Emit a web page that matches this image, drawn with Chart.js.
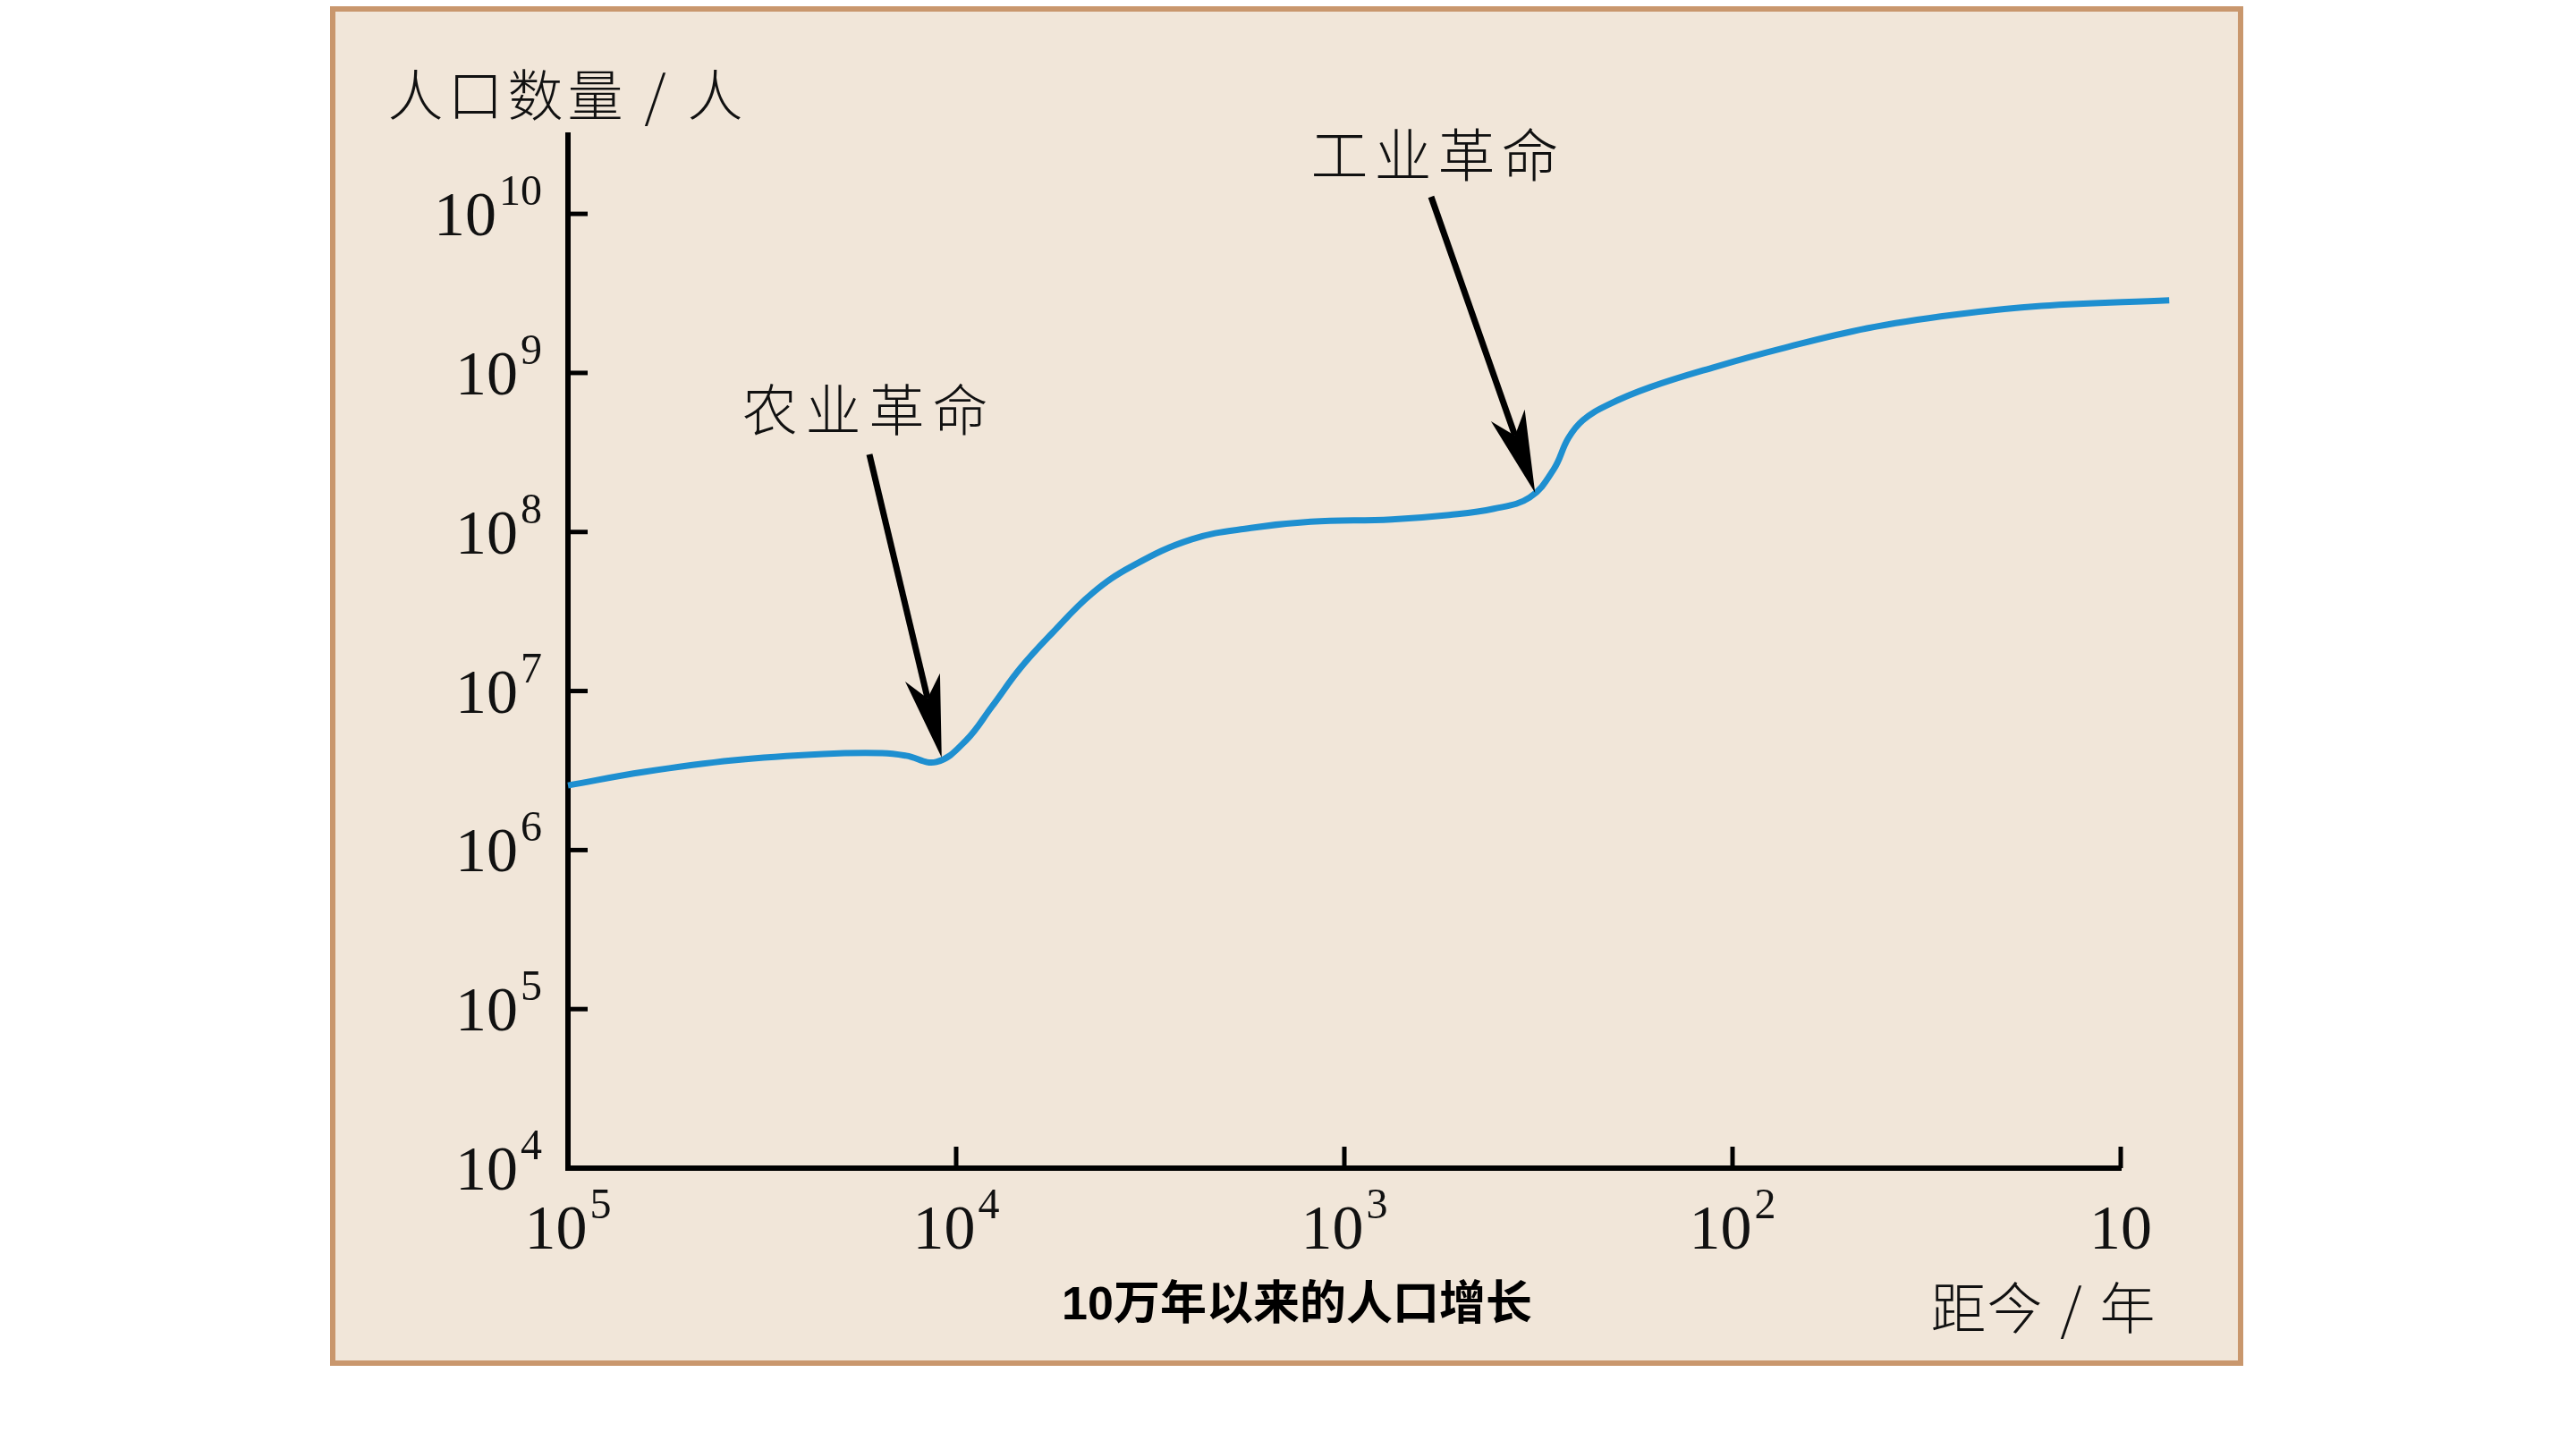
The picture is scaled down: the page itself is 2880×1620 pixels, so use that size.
<!DOCTYPE html>
<html lang="zh-CN">
<head>
<meta charset="utf-8">
<title>10万年以来的人口增长</title>
<script src="https://cdn.jsdelivr.net/npm/chart.js@4.4.1/dist/chart.umd.min.js"></script>
<style>
    html, body { margin: 0; padding: 0; background: #ffffff; }
    #grafico { display: block; }
</style>
</head>
<body>
<canvas id="grafico" width="2880" height="1620"></canvas>
<script>
// Años antes del presente (eje x, logarítmico e invertido)
const years = [100000, 63700, 37500, 22000, 15500, 13450, 11250, 9440, 8090, 6820,
    5670, 4470, 3520, 2470, 1740, 1220, 755, 537, 412, 333,
    289, 265, 243, 210, 163, 111, 75, 45, 27, 16, 7.5];
// Población estimada (personas)
const population = [2.55e6, 3.10e6, 3.67e6, 4.02e6, 4.07e6, 3.92e6, 3.58e6, 4.88e6, 7.98e6, 1.40e7,
    2.30e7, 4.10e7, 6.10e7, 9.0e7, 1.06e8, 1.16e8, 1.20e8, 1.28e8, 1.40e8, 1.65e8,
    2.47e8, 3.88e8, 5.04e8, 6.28e8, 8.13e8, 1.09e9, 1.42e9, 1.91e9, 2.32e9, 2.64e9, 2.86e9];

// Marcas de los ejes
const xTicks = [100000, 10000, 1000, 100, 10];
const xTickExp = ['5', '4', '3', '2', ''];
const yTicks = [1e4, 1e5, 1e6, 1e7, 1e8, 1e9, 1e10];
const yTickExp = ['4', '5', '6', '7', '8', '9', '10'];

// Textos
const yTitle = '人口数量/人';
const xTitle = '距今/年';
const caption = '10万年以来的人口增长';
const notes = [
    { text: '农业革命', year: 11250, pop: 3.58e6 },
    { text: '工业革命', year: 333, pop: 1.65e8 }
];

const SERIF = "'Liberation Serif', 'DejaVu Serif', serif";
const CJK = "'Noto Sans CJK SC', 'Noto Sans', sans-serif";

// Texto carácter por carácter con paso fijo
function spaced(ctx, txt, x0, cy, pitch, font) {
    ctx.font = font;
    ctx.textAlign = 'center';
    ctx.textBaseline = 'middle';
    [...txt].forEach((c, i) => ctx.fillText(c, x0 + pitch / 2 + i * pitch, cy));
}

function arrow(ctx, x0, y0, x1, y1) {
    const dx = x1 - x0, dy = y1 - y0;
    const len = Math.hypot(dx, dy);
    const ux = dx / len, uy = dy / len;
    const px = -uy, py = ux;
    const headLen = 92, half = 20, notch = 68;
    ctx.strokeStyle = '#000';
    ctx.lineWidth = 7;
    ctx.lineCap = 'butt';
    ctx.beginPath();
    ctx.moveTo(x0, y0);
    ctx.lineTo(x1 - ux * notch, y1 - uy * notch);
    ctx.stroke();
    ctx.fillStyle = '#000';
    ctx.beginPath();
    ctx.moveTo(x1, y1);
    ctx.lineTo(x1 - ux * headLen + px * half, y1 - uy * headLen + py * half);
    ctx.lineTo(x1 - ux * notch, y1 - uy * notch);
    ctx.lineTo(x1 - ux * headLen - px * half, y1 - uy * headLen - py * half);
    ctx.closePath();
    ctx.fill();
}

const decoracion = {
    id: 'decoracion',
    beforeDraw(chart) {
        const ctx = chart.ctx;
        ctx.save();
        ctx.fillStyle = '#ffffff';
        ctx.fillRect(0, 0, chart.width, chart.height);
        ctx.fillStyle = '#F1E6D9';
        ctx.fillRect(372, 10, 2133, 1514);
        ctx.strokeStyle = '#C9976D';
        ctx.lineWidth = 6;
        ctx.strokeRect(372, 10, 2133, 1514);
        ctx.restore();
    },
    afterDraw(chart) {
        const ctx = chart.ctx;
        const xs = chart.scales.x, ys = chart.scales.y;
        const left = chart.chartArea.left, bottom = chart.chartArea.bottom;
        ctx.save();
        ctx.fillStyle = '#111';
        ctx.strokeStyle = '#000';

        // marcas hacia dentro
        ctx.lineWidth = 5;
        yTicks.forEach(v => {
            const y = ys.getPixelForValue(v);
            if (v === yTicks[0]) return;
            ctx.beginPath(); ctx.moveTo(left, y); ctx.lineTo(left + 22, y); ctx.stroke();
        });
        xTicks.forEach(v => {
            const x = xs.getPixelForValue(v);
            if (v === xTicks[0]) return;
            ctx.beginPath(); ctx.moveTo(x, bottom); ctx.lineTo(x, bottom - 24); ctx.stroke();
        });

        // etiquetas del eje y: 10 con exponente
        ctx.textBaseline = 'alphabetic';
        yTicks.forEach((v, i) => {
            const y = ys.getPixelForValue(v);
            ctx.font = '48px ' + SERIF;
            ctx.textAlign = 'right';
            const ew = ctx.measureText(yTickExp[i]).width;
            ctx.fillText(yTickExp[i], 606, y - 10);
            ctx.font = '70px ' + SERIF;
            ctx.fillText('10', 606 - ew - 3, y + 24);
        });

        // etiquetas del eje x
        xTicks.forEach((v, i) => {
            const x = xs.getPixelForValue(v);
            ctx.font = '70px ' + SERIF;
            const bw = ctx.measureText('10').width;
            ctx.font = '48px ' + SERIF;
            const ew = xTickExp[i] ? ctx.measureText(xTickExp[i]).width + 3 : 0;
            const x0 = x - (bw + ew) / 2;
            ctx.textAlign = 'left';
            ctx.font = '70px ' + SERIF;
            ctx.fillText('10', x0, 1396);
            if (xTickExp[i]) {
                ctx.font = '48px ' + SERIF;
                ctx.fillText(xTickExp[i], x0 + bw + 3, 1362);
            }
        });

        // títulos de ejes
        spaced(ctx, yTitle, 431, 106, 67, '300 62px ' + CJK);
        spaced(ctx, xTitle, 2158, 1462, 63, '300 62px ' + CJK);

        // anotaciones con flechas
        spaced(ctx, notes[0].text, 825, 458, 71, '300 62px ' + CJK);
        spaced(ctx, notes[1].text, 1462, 173, 71, '300 64px ' + CJK);
        notes.forEach((n, i) => {
            const tx = xs.getPixelForValue(n.year);
            const ty = ys.getPixelForValue(n.pop);
            const start = i === 0 ? [972, 508] : [1600, 220];
            arrow(ctx, start[0], start[1], tx + 6, ty - 5);
        });

        // pie de figura
        ctx.font = 'bold 52px ' + "'Liberation Sans', " + CJK;
        ctx.textAlign = 'center';
        ctx.textBaseline = 'middle';
        ctx.fillText(caption, 1450, 1461);
        ctx.restore();
    }
};

const config = {
    type: 'line',
    data: {
        datasets: [{
            data: years.map((y, i) => ({ x: y, y: population[i] })),
            borderColor: '#1E8FD0',
            borderWidth: 7,
            pointRadius: 0,
            tension: 0.4,
            fill: false,
            clip: false
        }]
    },
    options: {
        responsive: false,
        animation: false,
        layout: { padding: { left: 635, right: 509, top: 151, bottom: 314 } },
        plugins: { legend: { display: false }, tooltip: { enabled: false } },
        scales: {
            x: {
                type: 'logarithmic',
                reverse: true,
                min: 10,
                max: 100000,
                afterBuildTicks: s => { s.ticks = xTicks.map(v => ({ value: v })); },
                grid: { display: false, drawTicks: false },
                border: { display: true, color: '#000', width: 6 },
                ticks: { display: false }
            },
            y: {
                type: 'logarithmic',
                min: 1e4,
                max: 3.13e10,
                afterBuildTicks: s => { s.ticks = yTicks.map(v => ({ value: v })); },
                grid: { display: false, drawTicks: false },
                border: { display: true, color: '#000', width: 6 },
                ticks: { display: false }
            }
        }
    },
    plugins: [decoracion]
};

const ctxGrafico = document.getElementById('grafico').getContext('2d');
new Chart(ctxGrafico, config);
</script>
</body>
</html>
